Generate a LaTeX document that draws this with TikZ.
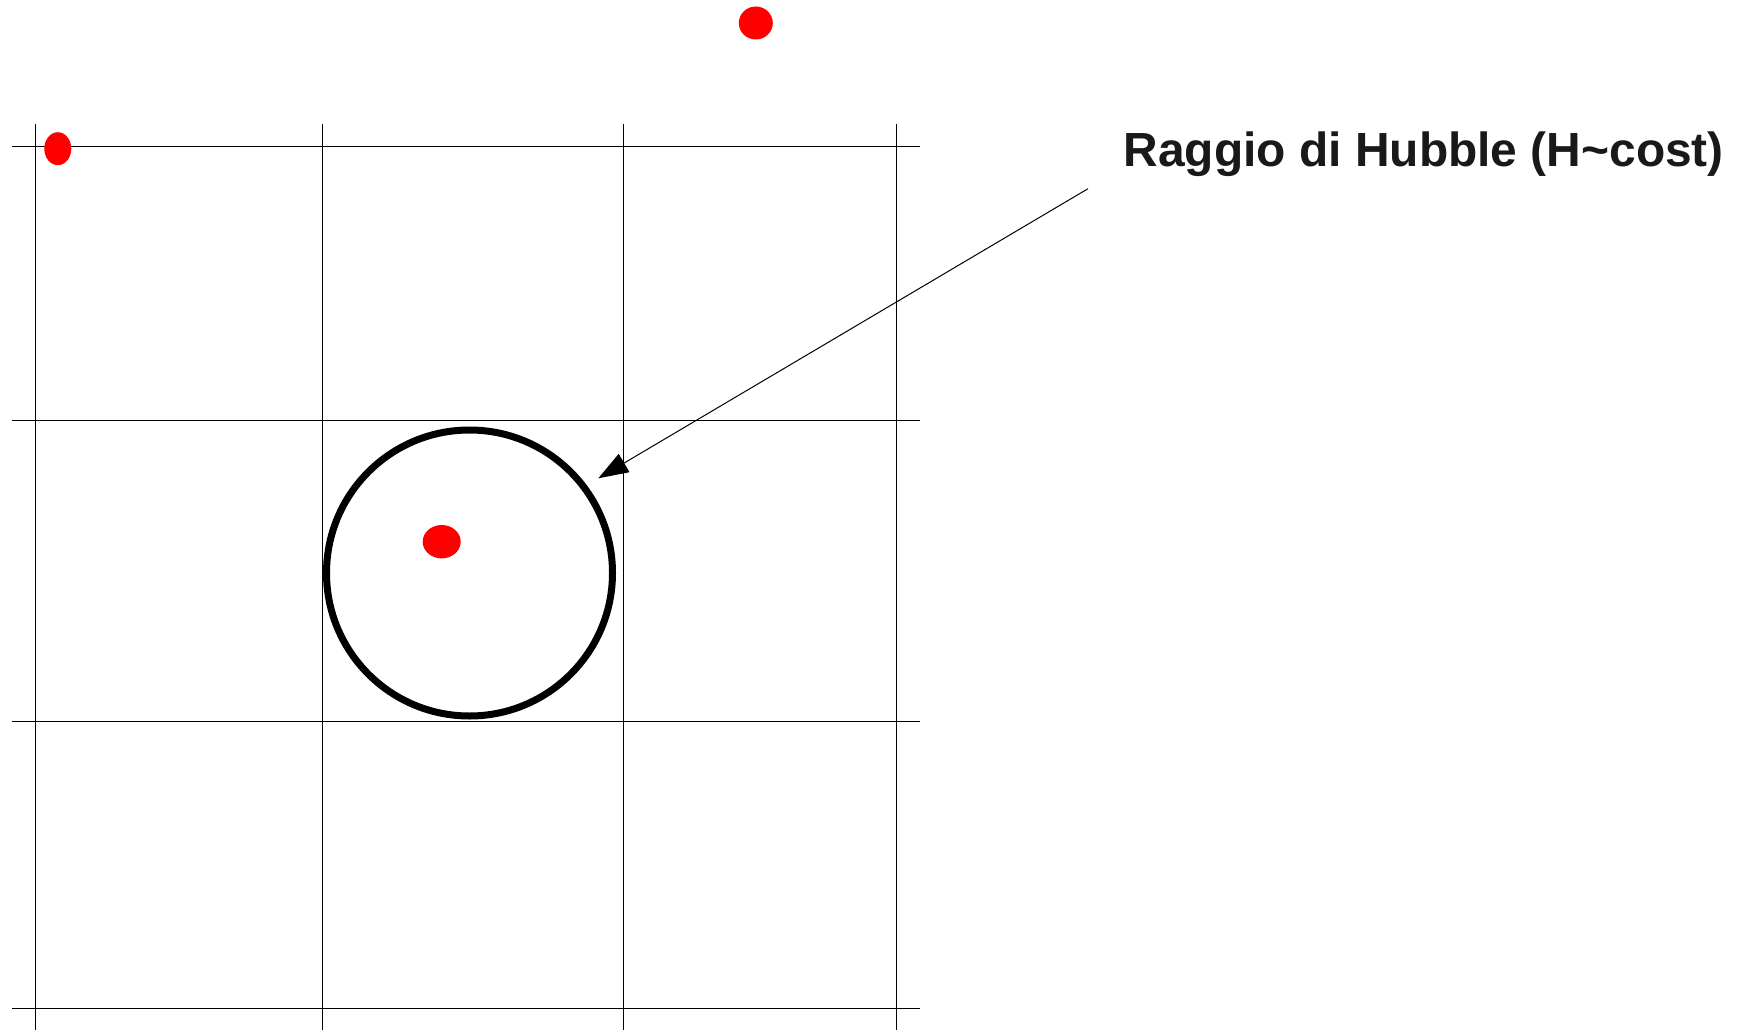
\documentclass[tikz,border=0pt]{standalone}
\usepackage{fontspec}
\setmainfont{Liberation Sans}
\usetikzlibrary{arrows.meta}

\begin{document}
\begin{tikzpicture}[x=1pt,y=-1pt,>={Triangle[length=30pt,width=21pt]}]

\useasboundingbox[fill=white] (0,0) rectangle (1746,1030);

% --- Griglia ---
\foreach \gx in {35.7,322.5,623.5,896.5}
  \draw[line width=1pt] (\gx,124.5) -- (\gx,1030);
\foreach \gy in {147,420,721,1008}
  \draw[line width=1pt] (12,\gy) -- (920,\gy);

% --- Raggio di Hubble ---
\draw[line width=7pt] (469.5,573) circle (143);

% --- Galassie ---
\fill[red] (755.8,23) ellipse (17 and 16.5);
\fill[red] (57.8,148.7) ellipse (13.5 and 16.5);
\fill[red] (441.7,541.7) ellipse (19 and 16.7);

% --- Etichetta ---
\node[anchor=base west, inner sep=0, text=black!90,
      font=\bfseries\fontsize{47.9}{50}\selectfont] (hubble) at (1123.5,166.7)
  {Raggio di Hubble (H\textasciitilde cost)};

% --- Freccia ---
\coordinate (from) at (1088,188.7);
\coordinate (to) at (598.3,478.3);
\draw[->, line width=1pt] (from) -- (to);

\end{tikzpicture}
\end{document}
